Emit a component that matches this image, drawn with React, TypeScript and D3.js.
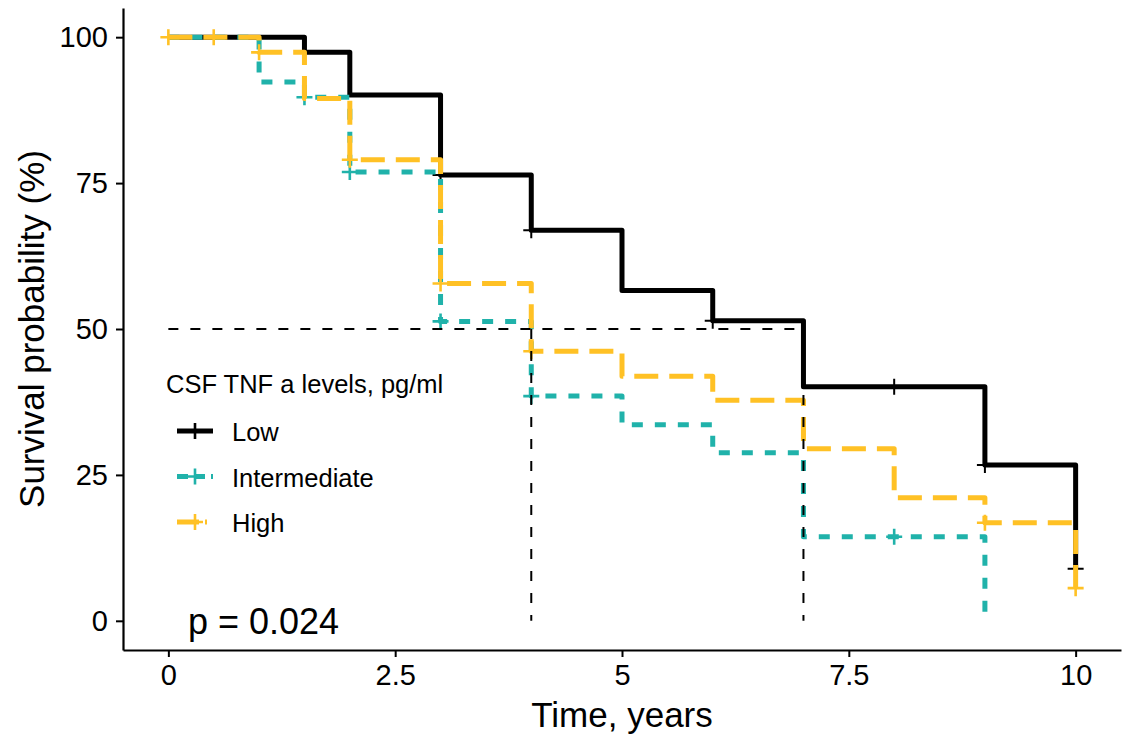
import React, { useRef, useEffect } from "react";
import { select, scaleLinear, line, curveStepAfter, axisLeft, axisBottom } from "d3";

const W = 1127;
const H = 734;

const xTicks = [0, 2.5, 5, 7.5, 10];
const yTicks = [0, 25, 50, 75, 100];

// Low
const lowTimes = [0, 1.5, 2, 3, 4, 5, 6, 7, 9, 10];
const lowSurv = [100, 97.4, 90.1, 76.4, 66.9, 56.6, 51.4, 40.1, 26.7, 8.9];
const lowCensor = [3, 4, 6, 8, 9, 10];

// Intermediate
const intTimes = [0, 1, 1.5, 2, 3, 4, 5, 6, 7, 9];
const intSurv = [100, 92.3, 89.7, 76.9, 51.3, 38.5, 33.6, 28.8, 14.4, 0];
const intCensor = [1.5, 2, 3, 4, 8];

// High
const highTimes = [0, 1, 1.5, 2, 3, 4, 5, 6, 7, 8, 9, 10];
const highSurv = [100, 97.4, 89.5, 79.0, 57.8, 46.2, 41.9, 37.8, 29.5, 21.1, 16.8, 5.6];
const highCensor = [0, 0.5, 1, 2, 3, 4, 9, 10];

const groups = ["Low", "Intermediate", "High"];
const colors = ["#000000", "#20B2AA", "#FFC125"];
const dashes = [null, "11 12", "24 11"];

const medianTimes = [4, 7];

const FONT = "'Liberation Sans', Arial, sans-serif";

function survAt(times, surv, t) {
  let v = surv[0];
  times.forEach((tt, i) => {
    if (tt <= t) v = surv[i];
  });
  return v;
}

function App() {
  const svgRef = useRef();

  useEffect(() => {
    const svg = select(svgRef.current);
    svg.selectAll("*").remove();

    const x = scaleLinear().domain([-0.5, 10.5]).range([123, 1121]);
    const y = scaleLinear().domain([-5, 105]).range([650, 8]);

    // axes
    const yAxis = axisLeft(y).tickValues(yTicks).tickSizeInner(7).tickSizeOuter(0).tickPadding(8);
    const gy = svg.append("g").attr("transform", `translate(${x(-0.5)},0)`).call(yAxis);
    const xAxis = axisBottom(x)
      .tickValues(xTicks)
      .tickSizeInner(7)
      .tickSizeOuter(0)
      .tickPadding(7)
      .tickFormat((d) => String(d));
    const gx = svg.append("g").attr("transform", `translate(0,${y(-5)})`).call(xAxis);
    [gx, gy].forEach((g) => {
      g.select(".domain").attr("stroke", "#000").attr("stroke-width", 2.2);
      g.selectAll(".tick line").attr("stroke", "#000").attr("stroke-width", 2);
      g.selectAll(".tick text")
        .attr("fill", "#000")
        .style("font-family", FONT)
        .style("font-size", "29px");
    });

    const data = [
      { times: lowTimes, surv: lowSurv, censor: lowCensor },
      { times: intTimes, surv: intSurv, censor: intCensor },
      { times: highTimes, surv: highSurv, censor: highCensor },
    ];

    const stepLine = line()
      .x((d) => x(d[0]))
      .y((d) => y(d[1]))
      .curve(curveStepAfter);

    data.forEach((g, gi) => {
      const pts = g.times.map((t, i) => [t, g.surv[i]]);
      svg
        .append("path")
        .attr("d", stepLine(pts))
        .attr("fill", "none")
        .attr("stroke", colors[gi])
        .attr("stroke-width", 5)
        .attr("stroke-dasharray", dashes[gi])
        .attr("stroke-linejoin", "round");

      const cg = svg.append("g");
      g.censor.forEach((t) => {
        const cx = x(t);
        const cy = y(survAt(g.times, g.surv, t));
        cg.append("path")
          .attr("d", `M${cx - 8},${cy}H${cx + 8}M${cx},${cy - 8}V${cy + 8}`)
          .attr("stroke", colors[gi])
          .attr("stroke-width", gi === 0 ? 2 : 2.6)
          .attr("fill", "none");
      });
    });

    // median lines
    const med = svg.append("g")
      .attr("stroke", "#000")
      .attr("stroke-width", 2)
      .attr("stroke-dasharray", "10 12")
      .attr("fill", "none");
    med.append("line")
      .attr("x1", x(0)).attr("x2", x(Math.max(...medianTimes)))
      .attr("y1", y(50)).attr("y2", y(50));
    medianTimes.forEach((t) => {
      med.append("line")
        .attr("x1", x(t)).attr("x2", x(t))
        .attr("y1", y(50)).attr("y2", y(0));
    });

    // legend
    const lg = svg.append("g").style("font-family", FONT);
    lg.append("text")
      .attr("x", 166).attr("y", 393)
      .style("font-size", "25.5px")
      .text("CSF TNF a levels, pg/ml");
    groups.forEach((name, i) => {
      const ly = 431 + i * 45.5;
      lg.append("line")
        .attr("x1", 177).attr("x2", 213)
        .attr("y1", ly).attr("y2", ly)
        .attr("stroke", colors[i])
        .attr("stroke-width", 5)
        .attr("stroke-dasharray", i === 0 ? null : i === 1 ? "11 6" : "22 6 2 6");
      lg.append("path")
        .attr("d", `M${187},${ly}H${203}M${195},${ly - 8}V${ly + 8}`)
        .attr("stroke", colors[i])
        .attr("stroke-width", 2.6);
      lg.append("text")
        .attr("x", 232).attr("y", ly + 10)
        .style("font-size", "25.5px")
        .text(name);
    });

    // p value
    svg.append("text")
      .attr("x", 188).attr("y", 634)
      .style("font-family", FONT)
      .style("font-size", "36px")
      .text("p = 0.024");

    // axis titles
    svg.append("text")
      .attr("x", (x(-0.5) + x(10.5)) / 2).attr("y", 727)
      .attr("text-anchor", "middle")
      .style("font-family", FONT)
      .style("font-size", "35px")
      .text("Time, years");
    svg.append("text")
      .attr("transform", `translate(44,${(y(-5) + y(105)) / 2}) rotate(-90)`)
      .attr("text-anchor", "middle")
      .style("font-family", FONT)
      .style("font-size", "35px")
      .text("Survival probability (%)");
  }, []);

  return (
    <div style={{ position: "absolute", left: 0, top: 0, background: "#fff" }}>
      <svg ref={svgRef} width={W} height={H} style={{ display: "block" }} />
    </div>
  );
}

export default App;
